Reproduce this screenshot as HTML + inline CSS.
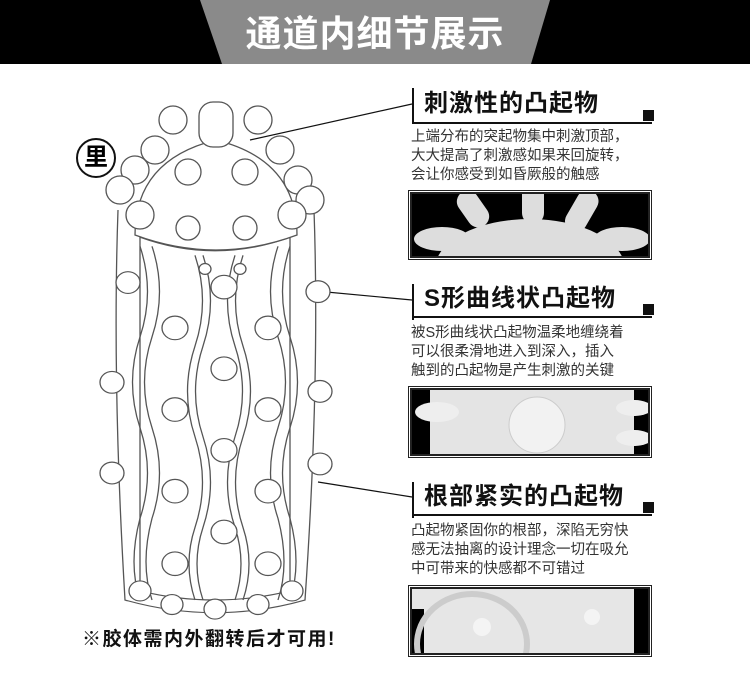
<!DOCTYPE html>
<html><head><meta charset="utf-8">
<style>
body{margin:0;width:750px;height:675px;background:#fff;position:relative;overflow:hidden;font-family:"Liberation Sans","Noto Sans CJK SC",sans-serif}
.hdr{position:absolute;left:0;top:0;width:750px;height:64px;background:#000}
.trap{position:absolute;left:0;top:0}
.title{position:absolute;left:200px;width:350px;top:12px;text-align:center;color:#fff;font-size:36px;font-weight:bold;letter-spacing:1px;line-height:44px}
.h{position:absolute;left:424px;font-size:24px;font-weight:bold;color:#111;line-height:30px;letter-spacing:1px}
.vl{position:absolute;left:412px;width:2px;background:#111}
.hl{position:absolute;left:412px;width:240px;height:2px;background:#111}
.sq{position:absolute;left:643px;width:11px;height:11px;background:#111}
.d{position:absolute;left:411px;font-size:14.5px;color:#333;line-height:19px;white-space:nowrap}
.ph{position:absolute;left:410px;width:236px;border:2px solid #222;outline:1px solid #fff;box-shadow:0 0 0 2px #222;overflow:hidden;background:#000}
.note{position:absolute;left:82px;top:624px;font-size:19px;font-weight:bold;color:#111;letter-spacing:1.5px;white-space:nowrap}
.li{position:absolute;left:76px;top:138px;width:36px;height:36px;border:2px solid #111;border-radius:50%;text-align:center;font-size:24px;font-weight:bold;line-height:36px}
</style></head><body>
<div class="hdr"></div>
<svg class="trap" width="750" height="70"><polygon points="200,0 550,0 531,64 222,64" fill="#8a8a8a"/></svg>
<div class="title">通道内细节展示</div>

<svg style="position:absolute;left:0;top:0" width="750" height="675">
<g stroke="#111" stroke-width="1.2" fill="none">
<line x1="250" y1="140" x2="412" y2="104"/>
<line x1="305" y1="290" x2="412" y2="300"/>
<line x1="318" y1="482" x2="412" y2="497"/>
</g>
<g stroke="#555" stroke-width="1.3" fill="#fff" transform="translate(0,210) scale(1,0.907) translate(0,-210)">
<path d="M118,210 Q112,400 125,640 Q215,668 305,640 Q320,400 314,210"/>
<path d="M140,240 Q215,270 290,240 L290,630 Q215,650 140,630Z" fill="none"/>
<path d="M140,250 Q155,300 140,350 Q125,400 140,450 Q155,500 140,550 Q128,600 140,640" fill="none"/>
<path d="M152,250 Q167,300 152,350 Q137,400 152,450 Q167,500 152,550 Q140,600 152,640" fill="none"/>
<path d="M290,250 Q275,300 290,350 Q305,400 290,450 Q275,500 290,550 Q302,600 290,640" fill="none"/>
<path d="M278,250 Q263,300 278,350 Q293,400 278,450 Q263,500 278,550 Q290,600 278,640" fill="none"/>
<path d="M195,260 Q210,310 195,360 Q180,410 195,460 Q210,510 195,560 Q183,600 195,640" fill="none"/>
<path d="M203,260 Q218,310 203,360 Q188,410 203,460 Q218,510 203,560 Q191,600 203,640" fill="none"/>
<path d="M235,260 Q220,310 235,360 Q250,410 235,460 Q220,510 235,560 Q247,600 235,640" fill="none"/>
<path d="M243,260 Q228,310 243,360 Q258,410 243,460 Q228,510 243,560 Q255,600 243,640" fill="none"/>
<circle cx="224" cy="295" r="13"/><circle cx="224" cy="385" r="13"/><circle cx="224" cy="475" r="13"/><circle cx="224" cy="565" r="13"/>
<circle cx="175" cy="340" r="13"/><circle cx="268" cy="340" r="13"/>
<circle cx="175" cy="430" r="13"/><circle cx="268" cy="430" r="13"/>
<circle cx="175" cy="520" r="13"/><circle cx="268" cy="520" r="13"/>
<circle cx="175" cy="600" r="13"/><circle cx="268" cy="600" r="13"/>
<circle cx="128" cy="290" r="12"/><circle cx="318" cy="300" r="12"/>
<circle cx="112" cy="400" r="12"/><circle cx="320" cy="410" r="12"/>
<circle cx="112" cy="500" r="12"/><circle cx="320" cy="490" r="12"/>
<circle cx="140" cy="630" r="11"/><circle cx="172" cy="645" r="11"/><circle cx="215" cy="650" r="11"/><circle cx="258" cy="645" r="11"/><circle cx="292" cy="630" r="11"/>
<circle cx="205" cy="275" r="6"/><circle cx="240" cy="275" r="6"/>
</g>
<g stroke="#555" stroke-width="1.3" fill="#fff">
<path d="M135,235 Q135,160 216,140 Q297,160 297,235 Q216,265 135,235Z"/>
<rect x="199" y="102" width="34" height="45" rx="14"/>
<circle cx="188" cy="172" r="13"/><circle cx="245" cy="172" r="13"/>
<circle cx="188" cy="228" r="12"/><circle cx="245" cy="228" r="12"/>
<circle cx="173" cy="120" r="14"/><circle cx="258" cy="120" r="14"/>
<circle cx="155" cy="150" r="14"/><circle cx="280" cy="150" r="14"/>
<circle cx="135" cy="170" r="14"/><circle cx="298" cy="180" r="14"/>
<circle cx="120" cy="190" r="14"/><circle cx="310" cy="200" r="14"/>
<circle cx="140" cy="215" r="14"/><circle cx="292" cy="215" r="14"/>
</g>
</svg>
<div class="li">里</div>

<div class="vl" style="top:88px;height:36px"></div>
<div class="h" style="top:89px">刺激性的凸起物</div>
<div class="hl" style="top:122px"></div>
<div class="sq" style="top:110px"></div>
<div class="d" style="top:128px">上端分布的突起物集中刺激顶部，<br>大大提高了刺激感如果来回旋转，<br>会让你感受到如昏厥般的触感</div>
<div class="ph" style="top:192px;height:62px">
<svg width="236" height="62"><g fill="#ddd"><ellipse cx="118" cy="75" rx="95" ry="50"/><rect x="50" y="-5" width="22" height="40" rx="11" transform="rotate(-35 61 15)"/><rect x="110" y="-10" width="22" height="40" rx="11"/><rect x="160" y="-5" width="22" height="45" rx="11" transform="rotate(30 171 15)"/><ellipse cx="30" cy="45" rx="28" ry="12"/><ellipse cx="210" cy="45" rx="28" ry="12"/></g></svg></div>

<div class="vl" style="top:284px;height:36px"></div>
<div class="h" style="top:284px">S形曲线状凸起物</div>
<div class="hl" style="top:316px"></div>
<div class="sq" style="top:304px"></div>
<div class="d" style="top:324px">被S形曲线状凸起物温柔地缠绕着<br>可以很柔滑地进入到深入，插入<br>触到的凸起物是产生刺激的关键</div>
<div class="ph" style="top:388px;height:64px;background:#e4e4e4">
<svg width="236" height="64"><rect x="0" y="0" width="18" height="64" fill="#000"/><rect x="222" y="0" width="14" height="64" fill="#000"/><ellipse cx="25" cy="22" rx="22" ry="10" fill="#eee"/><ellipse cx="222" cy="18" rx="18" ry="8" fill="#eee"/><ellipse cx="222" cy="48" rx="18" ry="8" fill="#eee"/><ellipse cx="125" cy="35" rx="28" ry="28" fill="#f2f2f2" stroke="#ccc"/></svg></div>

<div class="vl" style="top:482px;height:36px"></div>
<div class="h" style="top:482px">根部紧实的凸起物</div>
<div class="hl" style="top:514px"></div>
<div class="sq" style="top:502px"></div>
<div class="d" style="top:522px">凸起物紧固你的根部，深陷无穷快<br>感无法抽离的设计理念一切在吸允<br>中可带来的快感都不可错过</div>
<div class="ph" style="top:587px;height:64px;background:#e6e6e6">
<svg width="236" height="64"><rect x="0" y="20" width="12" height="44" fill="#000"/><rect x="222" y="0" width="14" height="64" fill="#000"/><ellipse cx="60" cy="55" rx="55" ry="50" fill="none" stroke="#ccc" stroke-width="6"/><circle cx="70" cy="38" r="9" fill="#f4f4f4"/><circle cx="180" cy="28" r="8" fill="#f4f4f4"/></svg></div>

<div class="note">※胶体需内外翻转后才可用!</div>
</body></html>
